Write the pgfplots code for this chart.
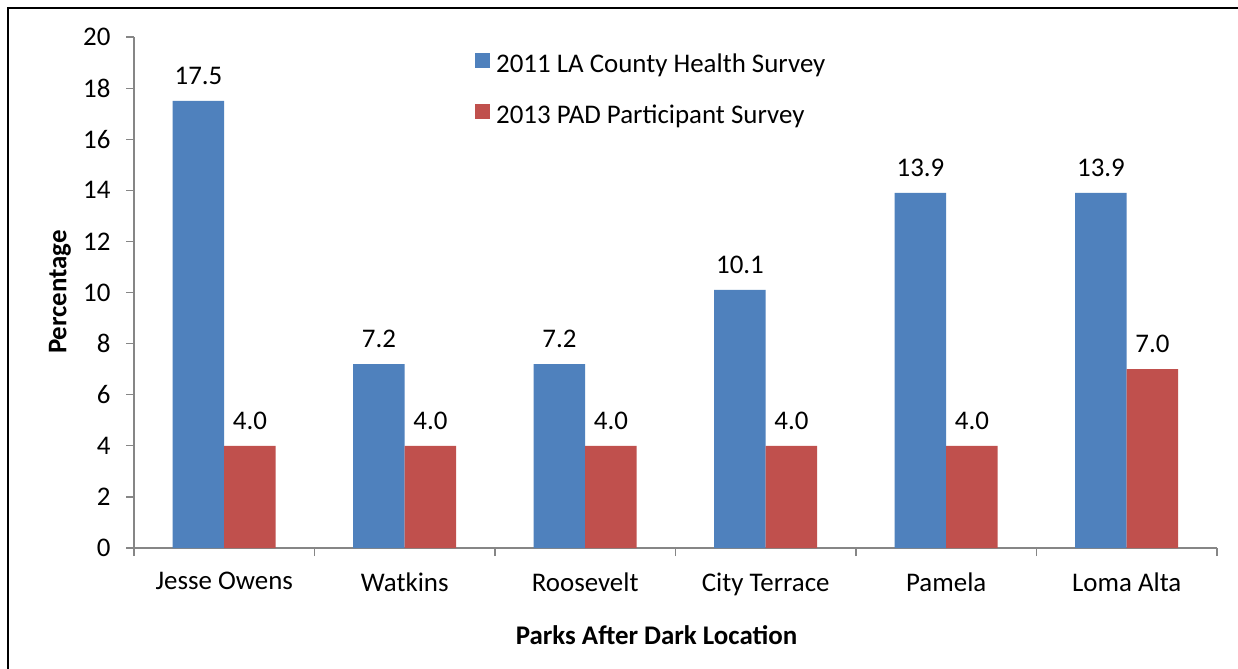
\documentclass[border=0pt]{standalone}
\usepackage{pgfplots}
\pgfplotsset{compat=1.18}
\usepackage{fontspec}
\setmainfont{Carlito}
\definecolor{barblue}{HTML}{4F81BD}
\definecolor{barred}{HTML}{C0504D}
\definecolor{axgray}{HTML}{868686}
\begin{document}
\begin{tikzpicture}[font=\fontsize{27}{32}\selectfont]
\useasboundingbox (0,0) rectangle (1238bp,-669bp);
\fill[white] (0,0) rectangle (1238bp,-669bp);
\draw[line width=2.5bp] (8bp,-669bp) -- (8bp,-8bp) -- (1238bp,-8bp);
\begin{axis}[
  at={(134bp,-548bp)}, anchor=south west,
  scale only axis, width=1083bp, height=511bp,
  ybar=0pt, bar width=51.5bp,
  xmin=-0.5, xmax=5.5, ymin=0, ymax=20,
  ytick={0,2,...,20},
  xtick={-0.5,0.5,...,5.5},
  xticklabels={Jesse Owens,Watkins,Roosevelt,City Terrace,Pamela,Loma Alta},
  x tick label as interval,
  axis x line*=bottom, axis y line*=left,
  axis line style={axgray, line width=1.5bp},
  tick align=outside, major tick length=8bp,
  tick style={axgray, line width=1.2bp},
  /pgf/number format/assume math mode=true,
  tick label style={font=\fontsize{27}{32}\selectfont},
  xticklabel style={yshift=-13bp},
  yticklabel style={xshift=-12bp},
  ylabel={\textbf{Percentage}},
  xlabel={\textbf{Parks After Dark Location}},
  ylabel style={at={(axis description cs:-0.0683,0.501)}, anchor=center, rotate=0},
  xlabel style={at={(axis description cs:0.4825,-0.170)}, anchor=center},
  label style={font=\fontsize{27}{32}\selectfont},
  point meta=y,
  nodes near coords={\pgfmathprintnumber[fixed,fixed zerofill,precision=1]{\pgfplotspointmeta}},
  every node near coord/.append style={font=\fontsize{27}{32}\selectfont, black, yshift=13bp},
  legend style={at={(rel axis cs:0.3149,0.972)}, anchor=north west, draw=none, fill=none,
    inner sep=0pt, row sep=27bp, font=\fontsize{27}{32}\selectfont,
    /tikz/every odd column/.append style={column sep=4bp}},
  legend cell align=left,
  legend image code/.code={\fill[#1] (0bp,0.32em-7.5bp) rectangle (15bp,0.32em+7.5bp);},
]
\addplot[fill=barblue, draw=none] coordinates {(0,17.5) (1,7.2) (2,7.2) (3,10.1) (4,13.9) (5,13.9)};
\addplot[fill=barred, draw=none] coordinates {(0,4.0) (1,4.0) (2,4.0) (3,4.0) (4,4.0) (5,7.0)};
\legend{2011 LA County Health Survey, 2013 PAD Participant Survey}
\end{axis}
\end{tikzpicture}
\end{document}
